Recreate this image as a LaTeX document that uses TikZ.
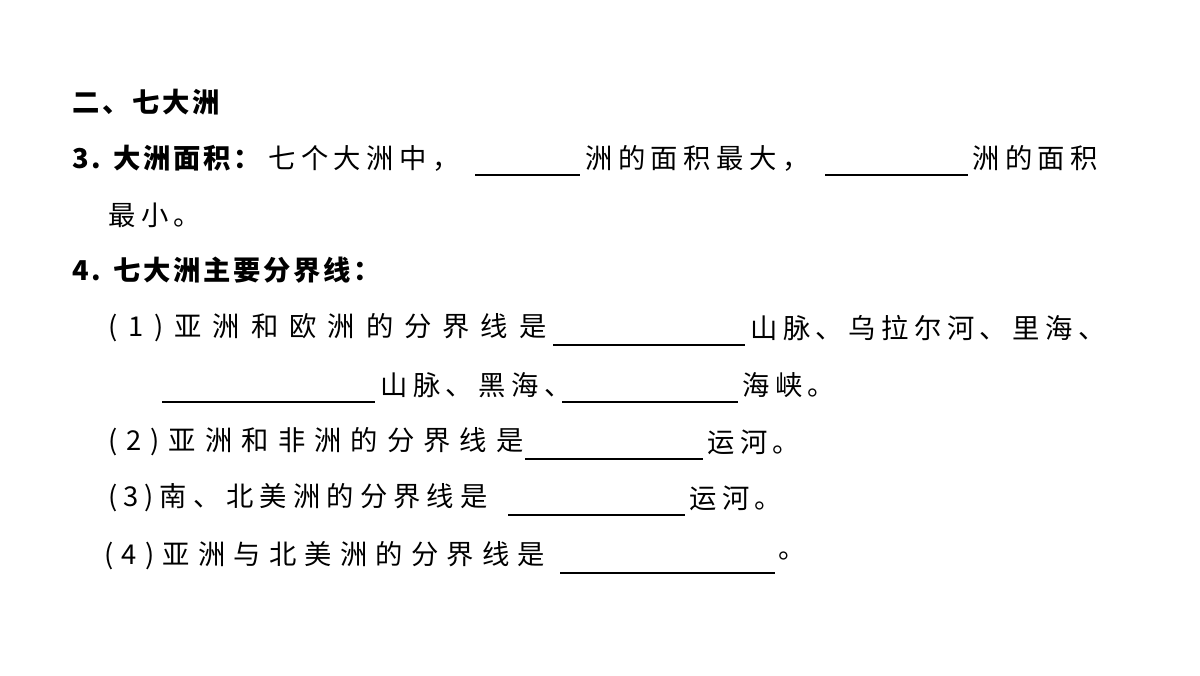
\documentclass[tikz,border=0pt]{standalone}
\usepackage{fontspec}
\newfontfamily\cjk{Noto Sans CJK SC}
\usetikzlibrary{positioning}
\newcommand\lsp[1]{\addfontfeature{LetterSpace=#1}}
\begin{document}
\begin{tikzpicture}[x=0.75pt,y=-0.75pt,
  txt/.style={anchor=west,inner sep=0pt,font=\cjk\fontsize{20.5}{24}\selectfont\lsp{20}},
  head/.style={txt,font=\cjk\bfseries\fontsize{20.5}{24}\selectfont\lsp{10}},
  blank/.style={line width=0.8pt}]
\useasboundingbox (0,0) rectangle (1200,675);
% heading
\node[head] (h2) at (72,102) {二、七大洲};
% item 3
\node[head] (i3) at (72,158) {3. 大洲面积：};
\node[txt] (t3a) at (268,158) {七个大洲中，};
\draw[blank] (475,175) -- (580,175);
\node[txt] (t3b) at (585,158) {洲的面积最大，};
\draw[blank] (825,175) -- (968,175);
\node[txt] (t3c) at (972,158) {洲的面积};
\node[txt] (t3d) at (108,215) {最小。};
% item 4
\node[head] (i4) at (72,270) {4. 七大洲主要分界线：};
\node[txt] (a1) at (108,328) {\lsp{40}(1)亚洲和欧洲的分界线是};
\draw[blank] (553,345) -- (745,345);
\node[txt] (a1b) at (750,328) {山脉、乌拉尔河、里海、};
\draw[blank] (162,402) -- (375,402);
\node[txt] (a1c) at (380,385) {山脉、黑海、};
\draw[blank] (562,402) -- (738,402);
\node[txt] (a1d) at (742,385) {海峡。};
\node[txt] (a2) at (108,442) {\lsp{33}(2)亚洲和非洲的分界线是};
\draw[blank] (525,459) -- (703,459);
\node[txt] (a2b) at (707,442) {运河。};
\node[txt] (a3) at (108,498) {\lsp{22}(3)南、北美洲的分界线是};
\draw[blank] (508,515) -- (685,515);
\node[txt] (a3b) at (689,498) {运河。};
\node[txt] (a4) at (104,556) {\lsp{30}(4)亚洲与北美洲的分界线是};
\draw[blank] (560,573) -- (775,573);
\node[txt] (a4b) at (778,556) {。};
\end{tikzpicture}
\end{document}
